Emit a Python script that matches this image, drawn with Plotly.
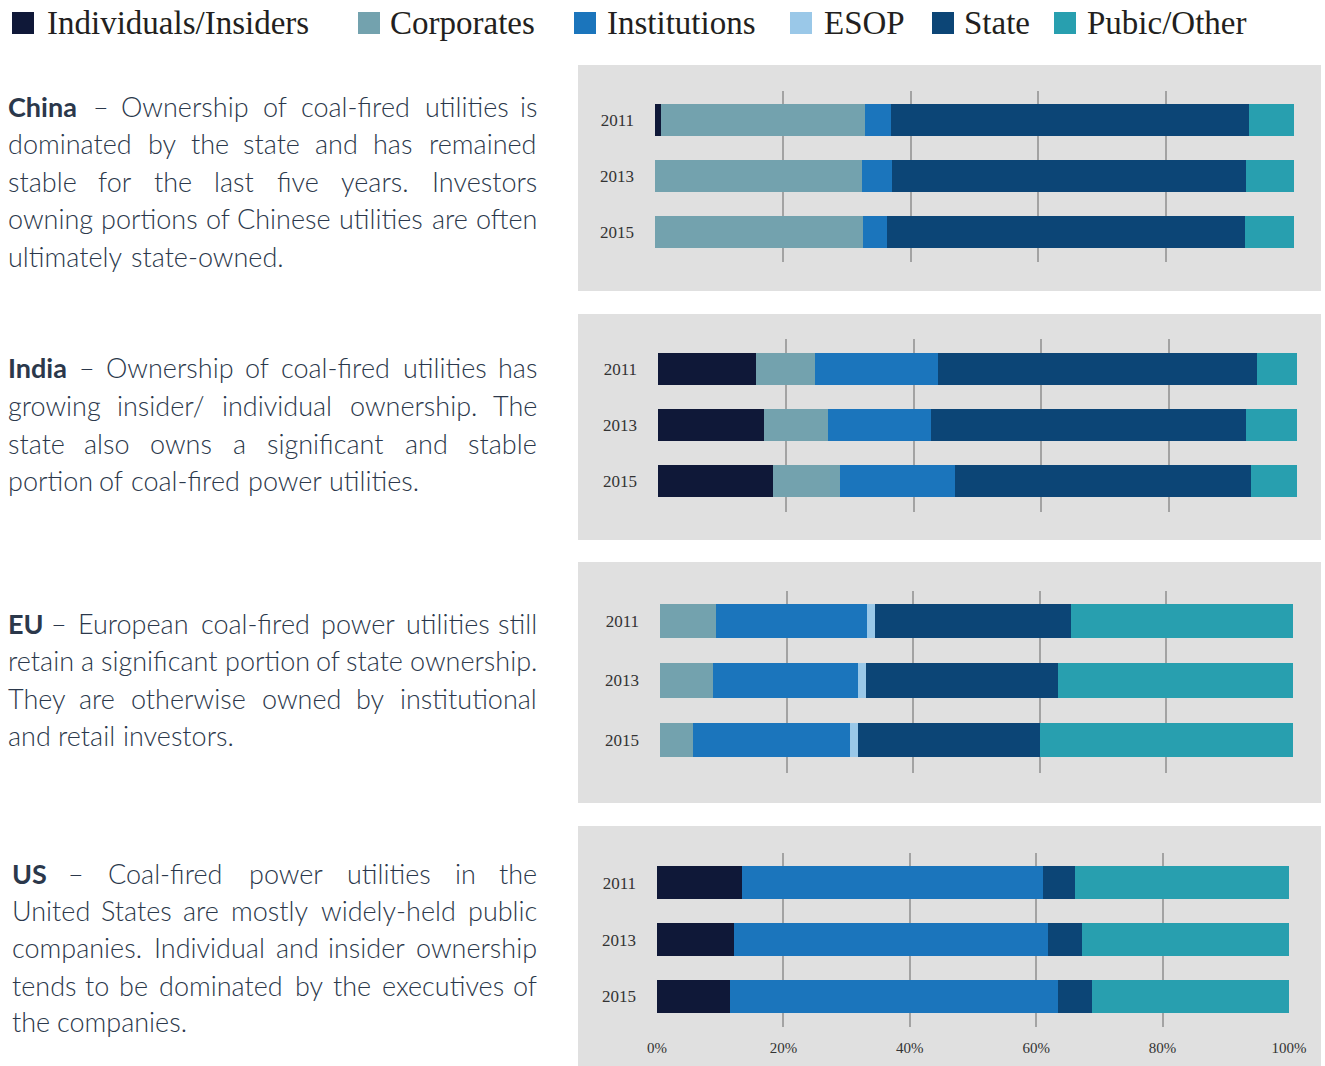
import plotly.graph_objects as go

W, H = 1325, 1066

years = ["2011", "2013", "2015"]
series_names = ["Individuals/Insiders", "Corporates", "Institutions", "ESOP", "State", "Pubic/Other"]
series_colors = ["#0f1838", "#73a2ae", "#1b75bc", "#9ac8e8", "#0c4576", "#289faf"]
x_ticks = [0, 20, 40, 60, 80, 100]
x_tick_labels = ["0%", "20%", "40%", "60%", "80%", "100%"]

# values in %, order: 2011, 2013, 2015
china_individuals = [1.0, 0.0, 0.0]
china_corporates = [31.8, 32.4, 32.6]
china_institutions = [4.2, 4.7, 3.7]
china_esop = [0.0, 0.0, 0.0]
china_state = [55.9, 55.4, 56.0]
china_public = [7.1, 7.5, 7.7]

india_individuals = [15.4, 16.6, 18.0]
india_corporates = [9.1, 10.0, 10.5]
india_institutions = [19.3, 16.1, 18.0]
india_esop = [0.0, 0.0, 0.0]
india_state = [49.9, 49.3, 46.3]
india_public = [6.3, 8.0, 7.2]

eu_individuals = [0.0, 0.0, 0.0]
eu_corporates = [8.8, 8.3, 5.2]
eu_institutions = [23.9, 23.0, 24.8]
eu_esop = [1.2, 1.3, 1.3]
eu_state = [31.0, 30.3, 28.7]
eu_public = [35.1, 37.1, 40.0]

us_individuals = [13.4, 12.2, 11.6]
us_corporates = [0.0, 0.0, 0.0]
us_institutions = [47.7, 49.6, 51.8]
us_esop = [0.0, 0.0, 0.0]
us_state = [5.0, 5.4, 5.4]
us_public = [33.9, 32.8, 31.2]

regions = [
    [china_individuals, china_corporates, china_institutions, china_esop, china_state, china_public],
    [india_individuals, india_corporates, india_institutions, india_esop, india_state, india_public],
    [eu_individuals, eu_corporates, eu_institutions, eu_esop, eu_state, eu_public],
    [us_individuals, us_corporates, us_institutions, us_esop, us_state, us_public],
]

# paragraph text (lines); first word of each paragraph is bold
china_lines = ["China – Ownership of coal-fired utilities is",
               "dominated by the state and has remained",
               "stable for the last five years. Investors",
               "owning portions of Chinese utilities are often",
               "ultimately state-owned."]
india_lines = ["India – Ownership of coal-fired utilities has",
               "growing insider/ individual ownership. The",
               "state also owns a significant and stable",
               "portion of coal-fired power utilities."]
eu_lines = ["EU – European coal-fired power utilities still",
            "retain a significant portion of state ownership.",
            "They are otherwise owned by institutional",
            "and retail investors."]
us_lines = ["US – Coal-fired power utilities in the",
            "United States are mostly widely-held public",
            "companies. Individual and insider ownership",
            "tends to be dominated by the executives of",
            "the companies."]

# ---------------- layout (pixel geometry) ----------------
panels = [  # grey box x0,x1,y0,y1 ; plot x0,x1,y0,y1 ; y range ; bar width
    dict(box=(578, 1321, 65, 291), plot=(655, 1294, 91, 262), yr=(2.536, -0.523), bw=0.57),
    dict(box=(578, 1321, 314, 540), plot=(658, 1297, 339, 512), yr=(2.554, -0.536), bw=0.57),
    dict(box=(578, 1321, 562, 803), plot=(660, 1293, 591, 773), yr=(2.555, -0.504), bw=0.58),
    dict(box=(578, 1321, 826, 1066), plot=(657, 1289, 853, 1027), yr=(2.54, -0.524), bw=0.58),
]

# line centre y (px) and whether the line is justified to the right edge
para_layout = [
    dict(lines=china_lines, ys=[106, 143.5, 181, 218.5, 256], just=[1, 1, 1, 1, 0]),
    dict(lines=india_lines, ys=[368, 405.5, 443, 480], just=[1, 1, 1, 0]),
    dict(lines=eu_lines, ys=[623, 660.5, 698, 735.5], just=[1, 1, 1, 0]),
    dict(lines=us_lines, ys=[873, 910, 947.5, 985, 1022], just=[1, 1, 1, 1, 0]),
]
para_left = [6, 6, 6, 10]
para_right = 539
FS = 27

# approximate glyph advances (em) of the sans font, used only to space words
CW = {'a': .50, 'b': .56, 'c': .46, 'd': .56, 'e': .52, 'f': .32, 'g': .50, 'h': .56, 'i': .23, 'j': .23,
      'k': .50, 'l': .23, 'm': .83, 'n': .56, 'o': .56, 'p': .56, 'q': .56, 'r': .36, 's': .41, 't': .34,
      'u': .56, 'v': .50, 'w': .76, 'x': .48, 'y': .49, 'z': .45, 'C': .66, 'E': .55, 'I': .26, 'O': .75,
      'S': .50, 'T': .57, 'U': .70, '.': .21, '-': .34, '/': .36, '–': .50}
SPACE = 0.19
KSCALE = 1.025
BOLD_SCALE = 1.1

legend_sq_x = [12, 358, 574, 790, 932, 1054]
legend_txt_x = [45, 388, 605, 822, 962, 1085]

TEXT_COLOR = "#2b384b"
SANS = "Lato"
SERIF = "Liberation Serif"


def px(x):
    return x / W


def py(y):
    return 1 - y / H


def word_w(wd, bold):
    return sum(CW.get(c, 0.5) for c in wd) * FS * KSCALE * (BOLD_SCALE if bold else 1.0)


fig = go.Figure()
shapes = []
annotations = []

for i, (vals, pnl) in enumerate(zip(regions, panels)):
    ax = "" if i == 0 else str(i + 1)
    bx0, bx1, by0, by1 = pnl["box"]
    shapes.append(dict(type="rect", xref="paper", yref="paper", x0=px(bx0), x1=px(bx1),
                       y0=py(by1), y1=py(by0), fillcolor="#e0e0e0", line=dict(width=0), layer="below"))
    for name, color, v in zip(series_names, series_colors, vals):
        fig.add_trace(go.Bar(y=years, x=v, name=name, orientation="h", marker=dict(color=color, line=dict(width=0)),
                             width=pnl["bw"], xaxis="x" + ax, yaxis="y" + ax, showlegend=False,
                             hovertemplate=name + " %{y}: %{x}%<extra></extra>"))
    x0, x1, y0, y1 = pnl["plot"]
    last = i == len(regions) - 1
    fig.update_layout(**{
        "xaxis" + ax: dict(domain=[px(x0), px(x1)], anchor="y" + ax, range=[0, 100], tickvals=x_ticks,
                           ticktext=x_tick_labels, showticklabels=last, showgrid=True,
                           gridcolor="#a3a3a3", gridwidth=1.6, zeroline=False, showline=False, ticks="",
                           ticklabelstandoff=10, tickfont=dict(family=SERIF, size=15, color="#333333"),
                           automargin=False, fixedrange=True),
        "yaxis" + ax: dict(domain=[py(y1), py(y0)], anchor="x" + ax, type="category",
                           categoryorder="array", categoryarray=years, range=list(pnl["yr"]),
                           showgrid=False, zeroline=False, showline=False, ticks="", ticklabelstandoff=20,
                           tickfont=dict(family=SERIF, size=17, color="#333333"), automargin=False,
                           fixedrange=True),
    })

# legend (manual, to match the reference layout)
for sx, tx, name, color in zip(legend_sq_x, legend_txt_x, series_names, series_colors):
    shapes.append(dict(type="rect", xref="paper", yref="paper", x0=px(sx), x1=px(sx + 22),
                       y0=py(34), y1=py(12), fillcolor=color, line=dict(width=0)))
    annotations.append(dict(xref="paper", yref="paper", x=px(tx), y=py(23), text=name, showarrow=False,
                            xanchor="left", yanchor="middle", font=dict(family=SERIF, size=33, color="#231f20")))

# paragraphs: one text per word, justified lines spread to the right edge
for p, left in zip(para_layout, para_left):
    for li, (line, yy, jf) in enumerate(zip(p["lines"], p["ys"], p["just"])):
        words = line.split(" ")
        bolds = [li == 0 and k == 0 for k in range(len(words))]
        widths = [word_w(wd, b) for wd, b in zip(words, bolds)]
        n = len(words)
        if jf and n > 1:
            gap = (para_right - left - sum(widths)) / (n - 1)
        else:
            gap = SPACE * FS * KSCALE
        cur = left
        for k, (wd, wdt, b) in enumerate(zip(words, widths, bolds)):
            if k == 0:
                xx, anc = left, "left"
            elif jf and k == n - 1:
                xx, anc = para_right, "right"
            else:
                xx, anc = cur + wdt / 2, "center"
            annotations.append(dict(xref="paper", yref="paper", x=px(xx), y=py(yy), text=wd,
                                    showarrow=False, xanchor=anc, yanchor="middle",
                                    font=dict(family=SANS, size=FS, color=TEXT_COLOR,
                                              weight=700 if b else 300)))
            cur += wdt + gap

fig.update_layout(width=W, height=H, margin=dict(l=0, r=0, t=0, b=0, autoexpand=False), autosize=False,
                  paper_bgcolor="white", plot_bgcolor="rgba(0,0,0,0)", barmode="stack",
                  bargap=0.4, shapes=shapes, annotations=annotations, showlegend=False)

fig.write_html("out.html", config={"displayModeBar": False},
               post_script="document.body.style.margin='0';document.body.style.overflow='hidden';")
